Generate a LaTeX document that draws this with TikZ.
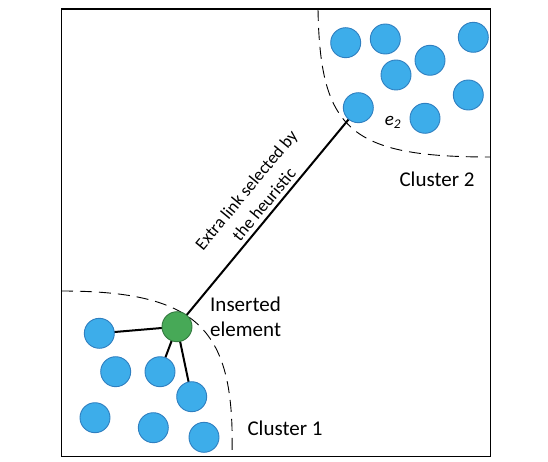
\documentclass[tikz,border=0pt]{standalone}
\usepackage{fontspec}
\setmainfont{Carlito}
\usetikzlibrary{backgrounds}
\definecolor{cfill}{HTML}{3DADEA}
\definecolor{cline}{HTML}{2F7FC0}
\definecolor{gfill}{HTML}{47A957}
\definecolor{gline}{HTML}{33793F}
\tikzset{
  elem/.style={circle,minimum size=30pt,inner sep=0pt,fill=cfill,draw=cline,line width=0.9pt},
  newelem/.style={elem,fill=gfill,draw=gline},
  link/.style={line width=2pt,black},
  border/.style={dash pattern=on 12pt off 7pt,line width=0.9pt},
  lbl/.style={font=\fontsize{21}{25}\selectfont,inner sep=0pt}
}
\begin{document}
\begin{tikzpicture}[x=1pt,y=-1pt]
\useasboundingbox (0,0) rectangle (548,462);
\node[draw,line width=1.2pt,minimum width=429pt,minimum height=447pt,inner sep=0pt,anchor=north west] (frame) at (61,8.5) {};
% cluster borders
\draw[border] (318,9) .. controls (320,130) and (350,157) .. (490,157);
\draw[border] (61,291) .. controls (200,291) and (235,330) .. (232,455);
% cluster 2
\node[elem] (a1) at (345.7,42.7) {};
\node[elem] (a2) at (385.3,39) {};
\node[elem] (a3) at (473.3,37.3) {};
\node[elem] (a4) at (430,60.3) {};
\node[elem] (a5) at (396,75) {};
\node[elem] (a6) at (468.3,95) {};
\node[elem] (e2) at (358.3,107.7) {};
\node[elem] (a8) at (425,118.3) {};
\node[inner sep=0pt,font=\fontsize{19}{20}\selectfont\itshape] (e2l) at (393,122.5) {e\textsubscript{2}};
\node[lbl] (c2l) at (437,179) {Cluster 2};
% cluster 1
\node[newelem] (g) at (177,326.7) {};
\node[elem] (b1) at (99.3,333.3) {};
\node[elem] (b2) at (115.7,371.7) {};
\node[elem] (b3) at (160,371.7) {};
\node[elem] (b4) at (191.7,396.7) {};
\node[elem] (b5) at (95,417.7) {};
\node[elem] (b6) at (153.3,427.7) {};
\node[elem] (b7) at (204,437.3) {};
\node[lbl,align=left,anchor=west] (ins) at (210,316.5) {Inserted\\element};
\node[lbl] (c1l) at (285,428) {Cluster 1};
% links
\begin{scope}[on background layer]
\draw[link] (g.center) -- (b1.center);
\draw[link] (g.center) -- (b3.center);
\draw[link] (g.center) -- (b4.center);
\draw[link] (g.center) -- (e2.center);
\end{scope}
\node[rotate=50.4,align=center,inner sep=0pt,font=\fontsize{17.5}{23}\selectfont] (xl) at (255,197) {Extra link selected by\\the heuristic};
\end{tikzpicture}
\end{document}
